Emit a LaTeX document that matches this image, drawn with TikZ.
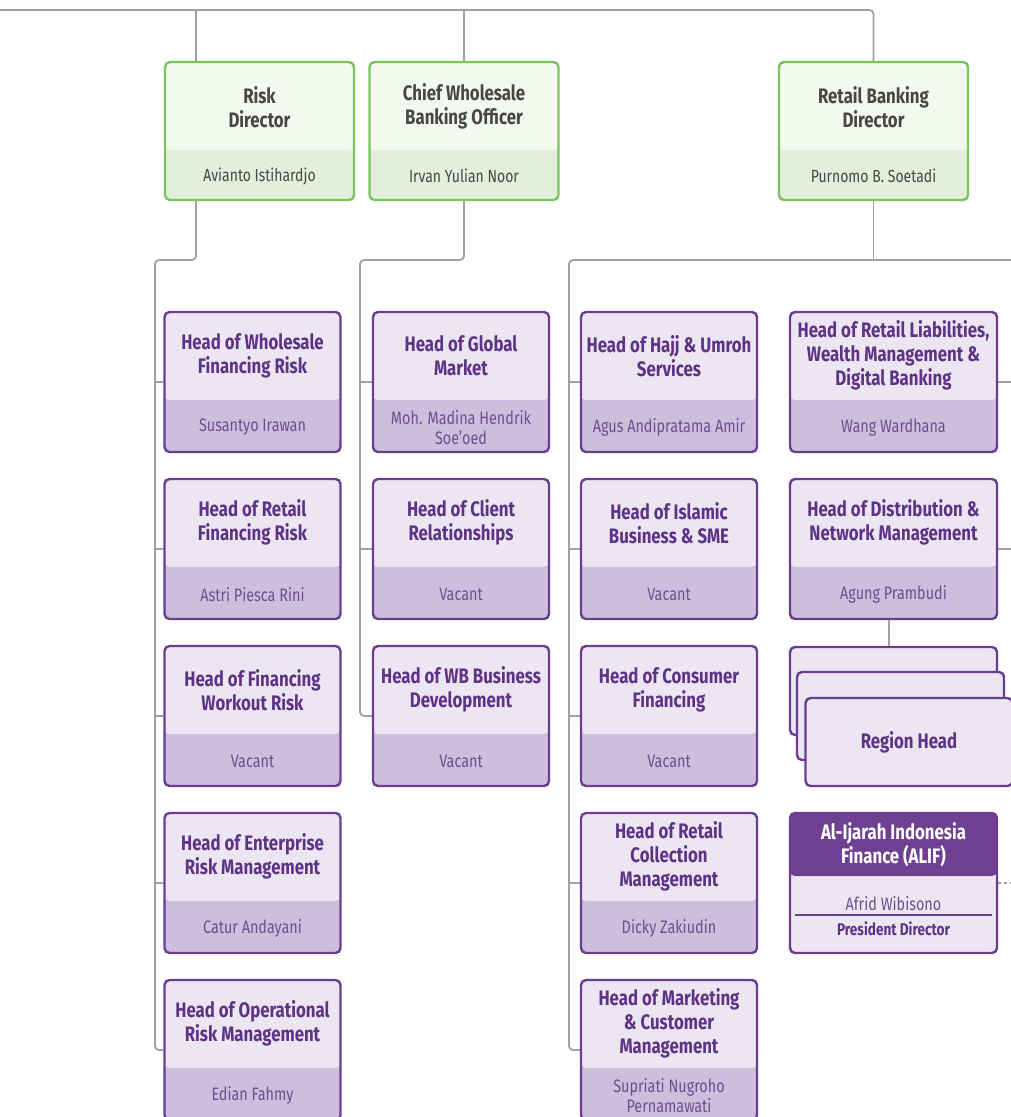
\documentclass[tikz,border=0pt]{standalone}
\usepackage{fontspec}
\setmainfont{Fira Sans}[FakeStretch=0.8]
\usetikzlibrary{positioning}
\definecolor{linkgray}{HTML}{A0A0A0}
\definecolor{dirgreen}{HTML}{7CC35F}
\definecolor{dirtop}{HTML}{F4F9F0}
\definecolor{dirbot}{HTML}{E3EFDA}
\definecolor{dirtext}{HTML}{474747}
\definecolor{hdpurple}{HTML}{6B3D8E}
\definecolor{hdtop}{HTML}{ECE6F3}
\definecolor{hdbot}{HTML}{CDBEDD}
\definecolor{hdtext}{HTML}{5E3386}
\definecolor{nmtext}{HTML}{6C4F8C}
\definecolor{alifdark}{HTML}{6F4091}

\begin{document}
\begin{tikzpicture}[x=1pt,y=-1pt]
\tikzset{
  link/.style={draw=linkgray,line width=1.8pt,rounded corners=4pt},
  dirbox/.style={draw=dirgreen,line width=2.4pt,rounded corners=5pt,fill=dirbot,
    minimum width=189pt,minimum height=138pt,inner sep=0pt,
    path picture={\fill[dirtop] (path picture bounding box.north west)
      rectangle ([yshift=-88pt]path picture bounding box.north east);}},
  dirtitle/.style={align=center,inner sep=0pt,text=dirtext,
    font=\bfseries\fontsize{21}{24}\selectfont},
  dirname/.style={inner sep=0pt,text=dirtext,font=\fontsize{17.5}{20}\selectfont},
  headbox/.style={draw=hdpurple,line width=2.4pt,rounded corners=5pt,fill=hdbot,
    minimum width=176pt,minimum height=140pt,inner sep=0pt,
    path picture={\fill[hdtop] (path picture bounding box.north west)
      rectangle ([yshift=-88pt]path picture bounding box.north east);}},
  wide/.style={minimum width=207pt},
  hdtitle/.style={align=center,inner sep=0pt,text=hdtext,
    font=\bfseries\fontsize{21}{24}\selectfont},
  hdname/.style={align=center,inner sep=0pt,text=nmtext,
    font=\fontsize{18}{20}\selectfont},
  regbox/.style={draw=hdpurple,line width=2.4pt,rounded corners=5pt,fill=hdtop,
    minimum width=207pt,minimum height=88pt,inner sep=0pt}}
% director card: name, x centre, title, person
\newcommand{\dircard}[4]{%
  \node[dirbox] (#1) at (#2,131) {};
  \node[dirtitle] at ([yshift=-46pt]#1.north) {#3};
  \node[dirname] at ([yshift=25pt]#1.south) {#4};}
% head card: options, name, x centre, y centre, title, person
\newcommand{\headcard}[6]{%
  \node[headbox,#1] (#2) at (#3,#4) {};
  \node[hdtitle] at ([yshift=-45pt]#2.north) {#5};
  \node[hdname] at ([yshift=26pt]#2.south) {#6};}
\clip (0,0) rectangle (1011,1117);
% ---------- directors ----------
\dircard{riskdir}{259.5}{Risk\\Director}{Avianto Istihardjo}
\dircard{wsdir}{464}{Chief Wholesale\\Banking Officer}{Irvan Yulian Noor}
\dircard{rbdir}{873.5}{Retail Banking\\Director}{Purnomo B. Soetadi}
% ---------- risk column ----------
\headcard{}{wfrisk}{252.5}{382}{Head of Wholesale\\Financing Risk}{Susantyo Irawan}
\headcard{}{rfrisk}{252.5}{549}{Head of Retail\\Financing Risk}{Astri Piesca Rini}
\headcard{}{fwrisk}{252.5}{716}{Head of Financing\\Workout Risk}{Vacant}
\headcard{}{ermgmt}{252.5}{883}{Head of Enterprise\\Risk Management}{Catur Andayani}
\headcard{}{ormgmt}{252.5}{1050}{Head of Operational\\Risk Management}{Edian Fahmy}
% ---------- wholesale column ----------
\headcard{}{glmkt}{461}{382}{Head of Global\\Market}{Moh. Madina Hendrik\\Soe'oed}
\headcard{}{clrel}{461}{549}{Head of Client\\Relationships}{Vacant}
\headcard{}{wbdev}{461}{716}{Head of WB Business\\Development}{Vacant}
% ---------- retail columns ----------
\headcard{}{hajj}{669}{382}{Head of Hajj \& Umroh\\Services}{Agus Andipratama Amir}
\headcard{}{islsme}{669}{549}{Head of Islamic\\Business \& SME}{Vacant}
\headcard{}{consfin}{669}{716}{Head of Consumer\\Financing}{Vacant}
\headcard{}{rcoll}{669}{883}{Head of Retail\\Collection\\Management}{Dicky Zakiudin}
\headcard{}{mktg}{669}{1050}{Head of Marketing\\\& Customer\\Management}{Supriati Nugroho\\Pernamawati}
\headcard{wide}{rliab}{893.5}{382}{Head of Retail Liabilities,\\Wealth Management \&\\Digital Banking}{Wang Wardhana}
\headcard{wide}{distnet}{893.5}{549}{Head of Distribution \&\\Network Management}{Agung Prambudi}
% region heads (stacked)
\node[regbox] (reg1) at (893.5,691) {};
\node[regbox] (reg2) at (900.5,716) {};
\node[regbox] (reg3) at (909,742) {};
\node[hdtitle] at (reg3) {Region Head};
% subsidiary
\node[headbox,wide,fill=hdtop,path picture={\fill[alifdark]
  (path picture bounding box.north west)
  rectangle ([yshift=-63pt]path picture bounding box.north east);}]
  (alif) at (893.5,883) {};
\node[hdtitle,text=white] at ([yshift=-33pt]alif.north)
  {Al-Ijarah Indonesia\\Finance (ALIF)};
\node[hdname,anchor=base] (alifname) at (893.5,910) {Afrid Wibisono};
\node[hdname,anchor=base,text=hdtext,font=\bfseries\fontsize{17}{19}\selectfont]
  (alifrole) at (893.5,935) {President Director};
\draw[hdpurple,line width=2pt] ([xshift=6pt]alif.west |- 0,915)
  -- ([xshift=-6pt]alif.east |- 0,915);
% ---------- connectors ----------
\coordinate (topleft) at (0,10);
\coordinate (rkbus) at (155,260);
\coordinate (wsbus) at (360,260);
\coordinate (rbbus) at (569,260);
\coordinate (rbright) at (1011,260);
\draw[link] (topleft) -| (rbdir.north);
\draw[link] (196,10) -- ([xshift=-63.5pt]riskdir.north);
\draw[link] (wsdir.north |- topleft) -- (wsdir.north);
\draw[link] ([xshift=-63.5pt]riskdir.south) |- (rkbus) |- (ormgmt.west);
\draw[link] (wsdir.south) |- (wsbus) |- (wbdev.west);
\draw[link] (rbdir.south) -- (rbdir.south |- rbbus);
\draw[link] (rbright) -- (rbbus) |- (mktg.west);
\foreach \c in {wfrisk,rfrisk,fwrisk,ermgmt}
  \draw[link] (\c.west) -- (\c.west -| rkbus);
\foreach \c in {glmkt,clrel}
  \draw[link] (\c.west) -- (\c.west -| wsbus);
\foreach \c in {hajj,islsme,consfin,rcoll}
  \draw[link] (\c.west) -- (\c.west -| rbbus);
\foreach \c in {rliab,distnet}
  \draw[link] (\c.east) -- (\c.east -| rbright);
\draw[link] ([xshift=-4.5pt]distnet.south) -- ([xshift=-4.5pt]reg1.north);
\draw[link,dashed] (alif.east) -- (alif.east -| rbright);
\end{tikzpicture}
\end{document}
